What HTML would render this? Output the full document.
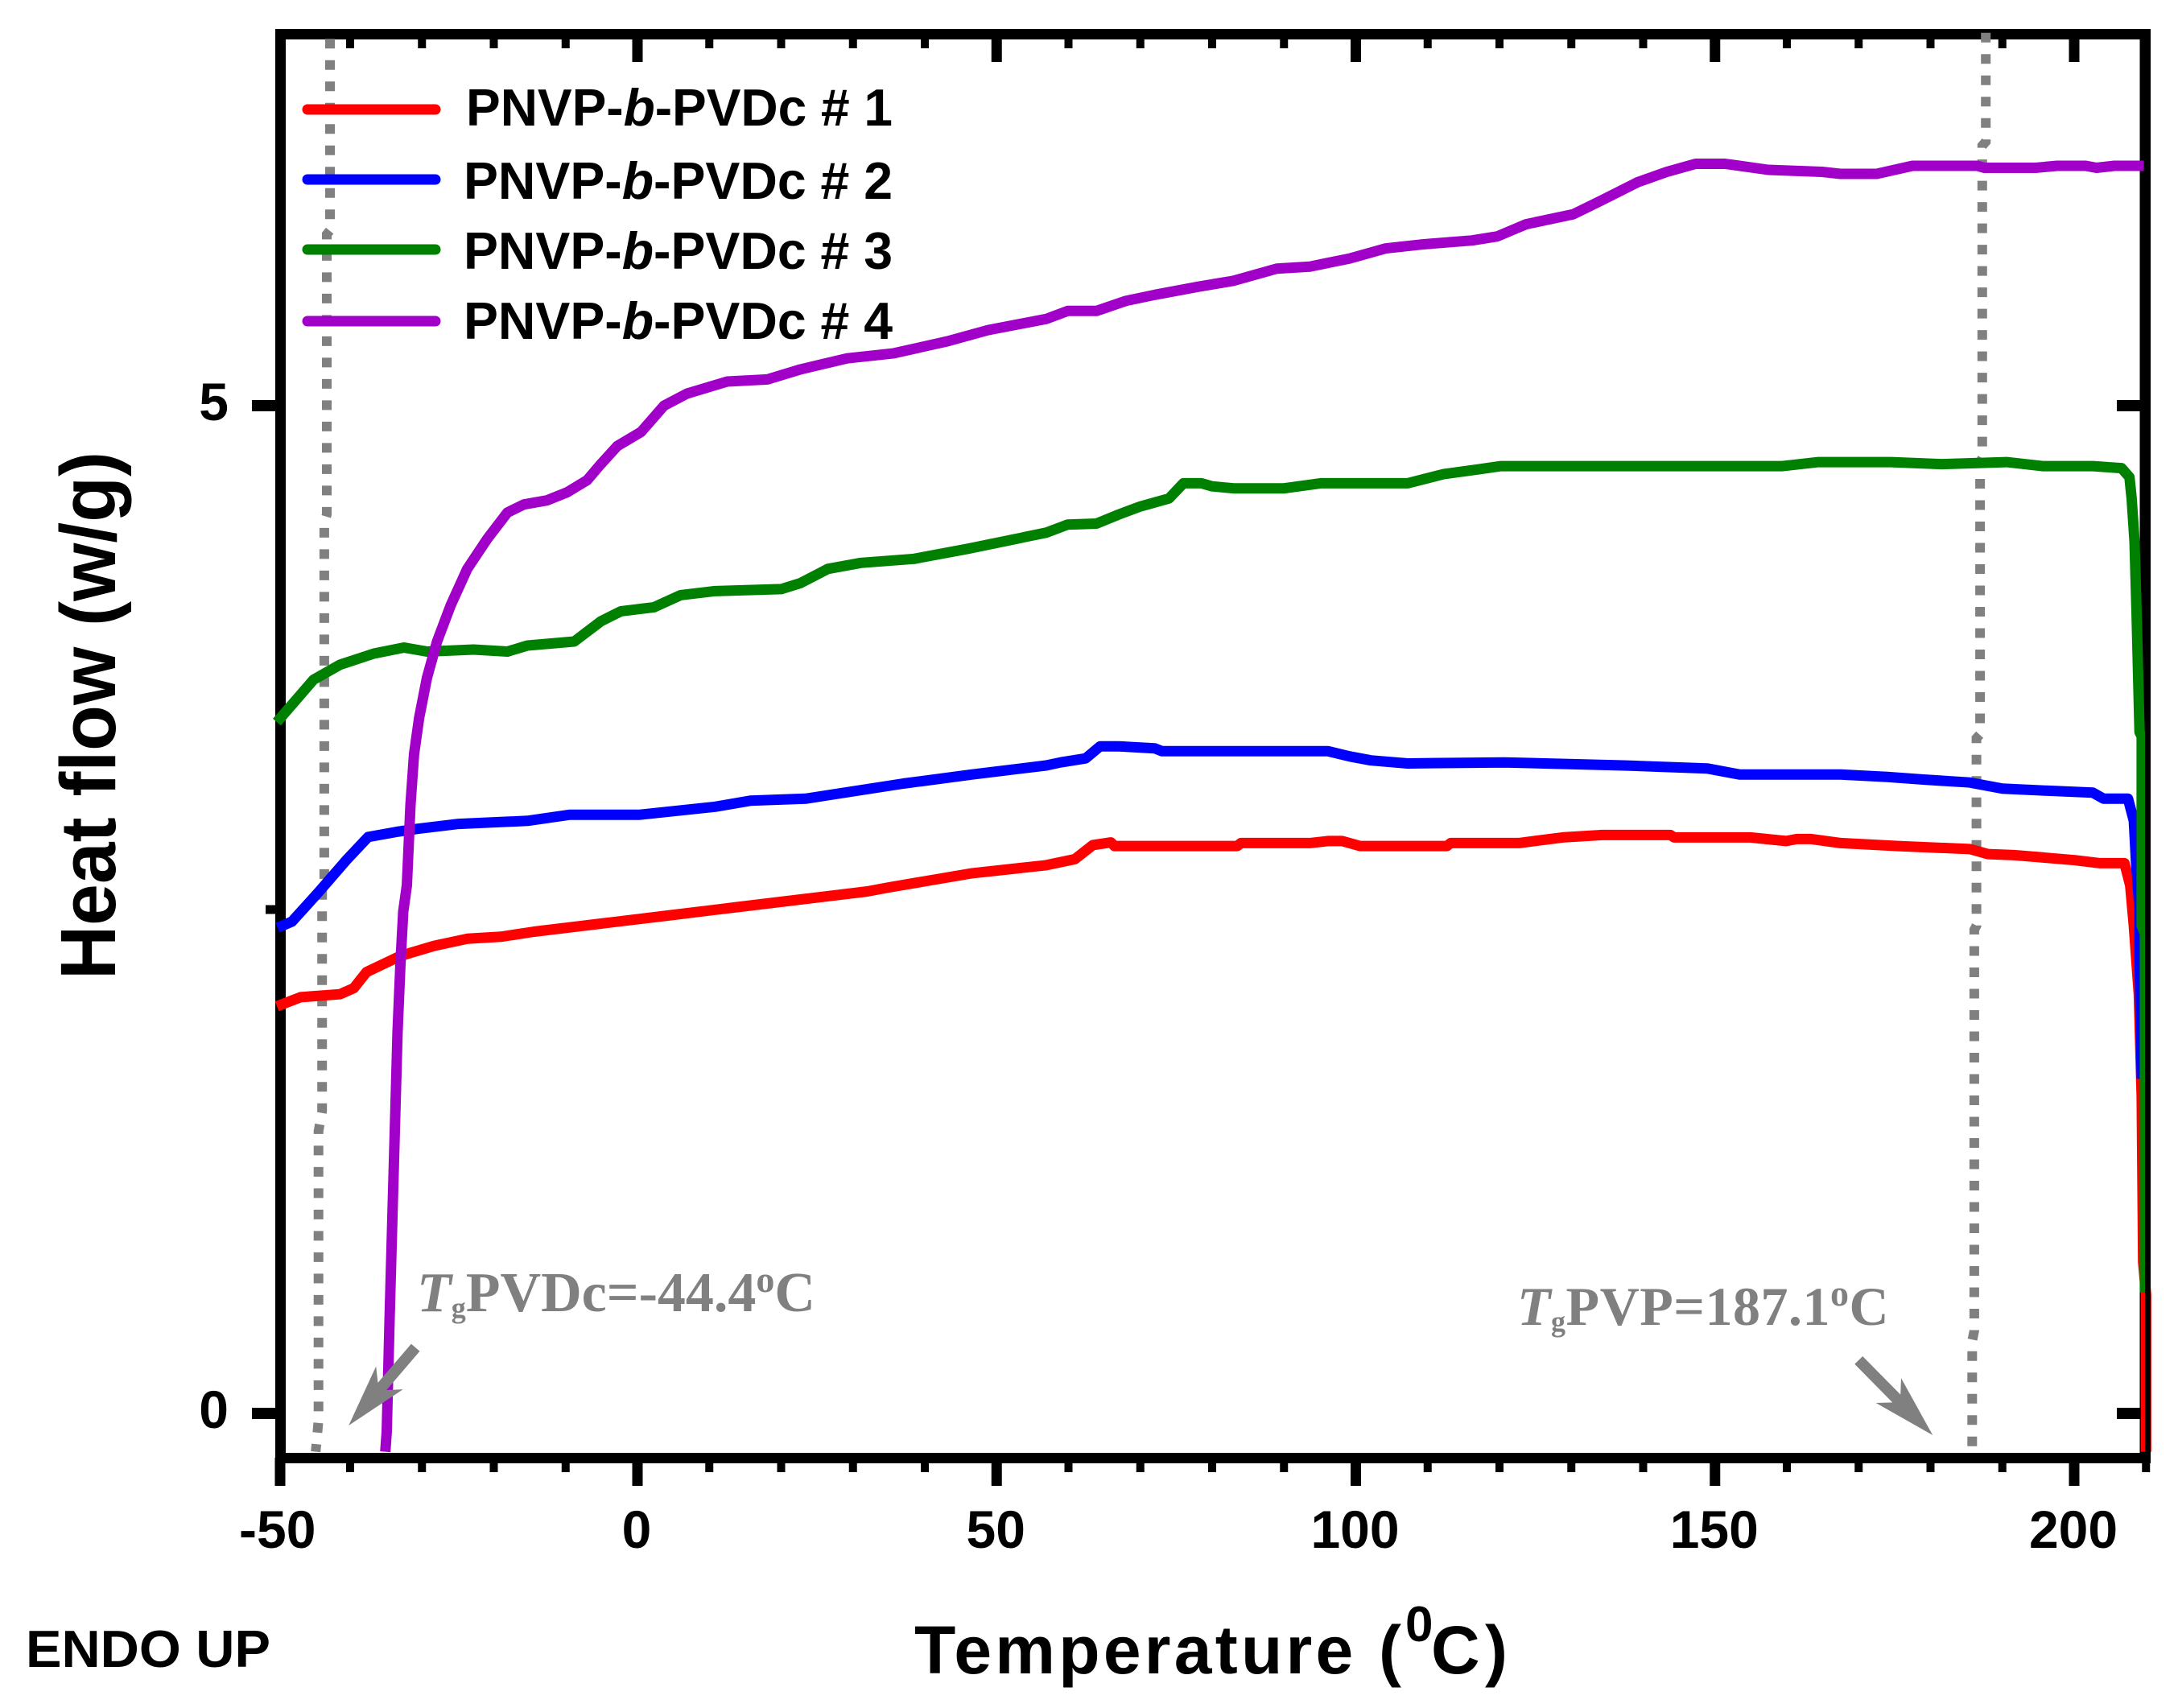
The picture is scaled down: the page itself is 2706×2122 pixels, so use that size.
<!DOCTYPE html>
<html lang="en">
<head>
<meta charset="utf-8">
<title>Heat flow vs temperature</title>
<style>
html,body{margin:0;padding:0;background:#fff;}
svg{display:block;}
text{font-family:"Liberation Sans",sans-serif;}
</style>
</head>
<body>
<svg id="chart" xmlns="http://www.w3.org/2000/svg" width="2706" height="2122" viewBox="0 0 2706 2122">
  <rect x="0" y="0" width="2706" height="2122" fill="#fff"/>
  <rect x="348.5" y="42.5" width="2316.5" height="1769" fill="none" stroke="#000" stroke-width="13"/>
  <g id="ticks"></g>
  <g id="tglines"></g>
  <g id="series"></g>
  <rect x="2665" y="36" width="7" height="1782" fill="#000"/>
  <g id="arrows"></g>

  <text transform="translate(143,1217) rotate(-90)" font-size="97" font-weight="bold" textLength="656" lengthAdjust="spacingAndGlyphs" fill="#000">Heat flow (w/g)</text>
  <text x="1136" y="2079" font-size="84" font-weight="bold" textLength="605" lengthAdjust="spacing" fill="#000">Temperature (</text>
  <text x="1746" y="2039" font-size="62" font-weight="bold" fill="#000">0</text>
  <text x="1778" y="2079" font-size="84" font-weight="bold" textLength="95" lengthAdjust="spacing" fill="#000">C)</text>
  <text x="32" y="2071" font-size="65" font-weight="bold" textLength="304" lengthAdjust="spacingAndGlyphs" fill="#000">ENDO UP</text>

  <g>
    <line x1="382" y1="136" x2="541" y2="136" stroke="#ff0000" stroke-width="13" stroke-linecap="round"/>
    <line x1="382" y1="223" x2="541" y2="223" stroke="#0000ff" stroke-width="13" stroke-linecap="round"/>
    <line x1="382" y1="310" x2="541" y2="310" stroke="#008000" stroke-width="13" stroke-linecap="round"/>
    <line x1="382" y1="399" x2="541" y2="399" stroke="#a000c8" stroke-width="13" stroke-linecap="round"/>
    <text x="579" y="156" font-size="65" font-weight="bold" textLength="530" lengthAdjust="spacingAndGlyphs">PNVP-<tspan font-style="italic">b</tspan>-PVDc # 1</text>
    <text x="576" y="247" font-size="65" font-weight="bold" textLength="533" lengthAdjust="spacingAndGlyphs">PNVP-<tspan font-style="italic">b</tspan>-PVDc # 2</text>
    <text x="576" y="334" font-size="65" font-weight="bold" textLength="533" lengthAdjust="spacingAndGlyphs">PNVP-<tspan font-style="italic">b</tspan>-PVDc # 3</text>
    <text x="576" y="421" font-size="65" font-weight="bold" textLength="533" lengthAdjust="spacingAndGlyphs">PNVP-<tspan font-style="italic">b</tspan>-PVDc # 4</text>
  </g>

  <text x="518" y="1629" style="font-family:'Liberation Serif',serif" font-size="70" font-weight="bold" fill="#808080"><tspan font-style="italic">T</tspan><tspan font-size="36" dy="8">g</tspan><tspan dy="-8">PVDc=-44.4</tspan><tspan font-size="46" dy="-24">o</tspan><tspan dy="24">C</tspan></text>
  <text x="1885" y="1646" style="font-family:'Liberation Serif',serif" font-size="68" font-weight="bold" fill="#808080" letter-spacing="0.5"><tspan font-style="italic">T</tspan><tspan font-size="36" dy="8">g</tspan><tspan dy="-8">PVP=187.1</tspan><tspan font-size="46" dy="-24">o</tspan><tspan dy="24">C</tspan></text>
</svg>

<script>
// ---- Axis data ----
const xMajorTicks = [-50, 0, 50, 100, 150, 200];
const xMinorTicks = [-40, -30, -20, -10, 10, 20, 30, 40, 60, 70, 80, 90, 110, 120, 130, 140, 160, 170, 180, 190, 210];
const yMajorTicks = [0, 5];
const yMinorTicks = [2.5];
const xTickLabels = ["-50", "0", "50", "100", "150", "200"];
const yTickLabels = ["0", "5"];

// ---- Series data: temperature (deg C) and heat flow (W/g) ----
const tempSeries1 = [-50.2,-46.9,-41.4,-39.5,-37.7,-33,-28.3,-23.7,-19,-14.4,-5.1,4.2,13.4,22.7,32,35,46.6,56.9,60.9,63.4,65.9,66.4,83.5,84,93.6,96.1,98.1,100.6,112.7,113.2,122.7,128.8,134.3,143.8,144.3,154.9,159.9,161.4,163.4,167.5,175.5,185.5,188,191.6,195.1,200.1,203.6,207,207.8,208.3,209,209.4,209.6,210,210];
const flowSeries1 = [2.02,2.065,2.08,2.11,2.19,2.27,2.32,2.355,2.365,2.39,2.43,2.47,2.51,2.55,2.59,2.61,2.68,2.72,2.75,2.82,2.833,2.815,2.815,2.83,2.83,2.84,2.84,2.815,2.815,2.83,2.83,2.858,2.87,2.87,2.858,2.858,2.84,2.85,2.85,2.83,2.815,2.80,2.775,2.77,2.76,2.745,2.73,2.73,2.62,2.42,2.08,1.57,0.75,0.59,-0.19];

const tempSeries2 = [-50.1,-48.1,-44.3,-40.4,-37.5,-33.6,-30.7,-24.9,-15.3,-9.5,0.2,10.8,15.7,23.4,37,46.6,56.9,58.9,62.4,64.4,67,72,73,96.1,99.1,102.1,107.2,120.7,137.3,148.9,153.4,167.5,174,179,185.5,190,196.1,202.6,204.1,207.5,208.3,208.6,209.1,209.1,209.4];
const flowSeries2 = [2.41,2.44,2.59,2.75,2.86,2.885,2.90,2.925,2.94,2.97,2.97,3.01,3.04,3.05,3.125,3.17,3.215,3.23,3.25,3.31,3.31,3.30,3.286,3.286,3.26,3.24,3.225,3.23,3.215,3.20,3.17,3.17,3.158,3.145,3.13,3.10,3.09,3.08,3.05,3.05,2.94,2.74,2.5,2.26,1.66];

const tempSeries3 = [-50.2,-45.1,-41.4,-36.7,-32.5,-29.3,-22.8,-18.1,-15.3,-8.8,-5.1,-2.3,2.3,6,10.7,20,22.7,26.5,31.1,38.5,46,56.9,59.9,63.9,67,70,74,76,78.5,80,83,90,95.1,107.2,112.2,117.2,120.2,127.3,159.4,164.4,174.5,181.5,190.6,195.6,202.6,206.6,207.7,208,208.4,208.7,209.1,209.4,209.4,209.85,209.85];
const flowSeries3 = [3.43,3.64,3.715,3.77,3.80,3.78,3.79,3.78,3.81,3.83,3.93,3.98,4.00,4.06,4.08,4.09,4.12,4.19,4.22,4.24,4.29,4.37,4.41,4.415,4.46,4.50,4.54,4.615,4.615,4.60,4.59,4.59,4.615,4.615,4.66,4.685,4.70,4.70,4.70,4.72,4.72,4.71,4.72,4.70,4.70,4.69,4.645,4.54,4.325,3.96,3.38,3.36,2.42,2.38,0.6];

const tempSeries4 = [-35.1,-34.9,-34.5,-34.1,-33.7,-33.4,-33,-32.6,-32.1,-31.6,-31.1,-30.4,-29.3,-27.9,-26,-23.7,-20.9,-18.1,-15.8,-12.6,-9.8,-7,-5.1,-2.8,0.5,3.7,6.9,12.5,18.1,22.7,29.2,35.7,43.2,48.8,56.9,59.9,63.9,68,72,78,83,89,93.6,99.1,104.1,109.2,116.2,119.7,123.7,130.3,134.3,139.3,143.3,147.3,151.4,157.4,164.9,167.5,172.5,177.5,186.5,187.5,194.6,197.6,201.6,203.1,205.6,209.7];
const flowSeries4 = [-0.19,-0.09,0.48,1.00,1.50,1.89,2.23,2.49,2.62,3.02,3.27,3.45,3.65,3.83,4.01,4.19,4.34,4.47,4.51,4.53,4.57,4.63,4.71,4.80,4.87,5.00,5.06,5.12,5.13,5.18,5.235,5.26,5.32,5.375,5.43,5.47,5.47,5.52,5.55,5.59,5.62,5.68,5.69,5.73,5.78,5.80,5.82,5.84,5.90,5.95,6.02,6.11,6.16,6.20,6.20,6.17,6.16,6.15,6.15,6.19,6.19,6.18,6.18,6.19,6.19,6.18,6.19,6.19];

// ---- Tg guide lines (stepped as in the source figure) ----
const tgPvdcTemps = [-42.8,-42.8,-43.25,-43.25,-43.6,-43.6,-43.9,-43.9,-44.4,-44.4,-44.8];
const tgPvdcFlows = [6.82,5.87,5.85,4.46,4.42,2.62,2.6,1.5,1.4,-0.036,-0.19];
const tgPvpTemps = [187.7,187.7,187.2,187.2,186.9,186.9,186.4,186.4,186.1,186.1,185.8,185.8];
const tgPvpFlows = [6.85,6.31,6.29,4.74,4.72,3.37,3.35,2.42,2.4,0.41,0.36,-0.2];

// ---- Arrow endpoints in data units ----
const pvdcArrowTail = [-30.9, 0.327];
const pvdcArrowTip = [-40.2, -0.06];
const pvpArrowTail = [170, 0.264];
const pvpArrowTip = [180.3, -0.108];

// ---- Axis functions ----
const xScale = t => 792 + 8.925 * t;
const yScale = v => 1756 - 250.4 * v;
const NS = "http://www.w3.org/2000/svg";

function pathFrom(temps, flows) {
  return temps.map((t, i) => (i ? "L" : "M") + xScale(t).toFixed(1) + " " + yScale(flows[i]).toFixed(1)).join(" ");
}

const ticksGroup = document.getElementById("ticks");
function addTick(x1, y1, x2, y2, w) {
  const el = document.createElementNS(NS, "line");
  
  
  el.setAttribute("x1", x1);
  el.setAttribute("y1", y1);
  el.setAttribute("x2", x2);
  el.setAttribute("y2", y2);
  el.setAttribute("stroke", "#000");
  el.setAttribute("stroke-width", w);
  ticksGroup.appendChild(el);
}
xMajorTicks.forEach(t => {
  addTick(Math.max(xScale(t), 348), 1811, Math.max(xScale(t), 348), 1846, 13);
  if (t > -50) addTick(xScale(t), 44, xScale(t), 77, 13);
});
xMinorTicks.forEach(t => {
  addTick(xScale(t), 1811, xScale(t), 1829, 10);
  if (t < 210) addTick(xScale(t), 44, xScale(t), 60, 10);
});
yMajorTicks.forEach(v => {
  addTick(313, yScale(v), 348, yScale(v), 14);
  addTick(2630, yScale(v), 2665, yScale(v), 14);
});
yMinorTicks.forEach(v => {
  addTick(330, yScale(v), 348, yScale(v), 11);
  addTick(2645, yScale(v), 2665, yScale(v), 11);
});

xTickLabels.forEach((label, i) => {
  const el = document.createElementNS(NS, "text");
  
  
  el.setAttribute("x", xScale(xMajorTicks[i]) - 1);
  el.setAttribute("y", 1923);
  el.setAttribute("font-size", 66);
  el.setAttribute("font-weight", "bold");
  el.setAttribute("text-anchor", "middle");
  el.textContent = label;
  ticksGroup.appendChild(el);
});
yTickLabels.forEach((label, i) => {
  const el = document.createElementNS(NS, "text");
  
  
  el.setAttribute("x", 284);
  el.setAttribute("y", yScale(yMajorTicks[i]) + 18);
  el.setAttribute("font-size", 66);
  el.setAttribute("font-weight", "bold");
  el.setAttribute("text-anchor", "end");
  el.textContent = label;
  ticksGroup.appendChild(el);
});

const tgGroup = document.getElementById("tglines");
[[tgPvdcTemps, tgPvdcFlows], [tgPvpTemps, tgPvpFlows]].forEach(pair => {
  const el = document.createElementNS(NS, "path");
  
  
  el.setAttribute("d", pathFrom(pair[0], pair[1]));
  el.setAttribute("fill", "none");
  el.setAttribute("stroke", "#808080");
  el.setAttribute("stroke-width", 12);
  el.setAttribute("stroke-dasharray", "12 14.5");
  tgGroup.appendChild(el);
});

const seriesGroup = document.getElementById("series");
function addSeries(temps, flows, color) {
  const el = document.createElementNS(NS, "path");
  
  
  el.setAttribute("d", pathFrom(temps, flows));
  el.setAttribute("fill", "none");
  el.setAttribute("stroke", color);
  el.setAttribute("stroke-width", 13);
  el.setAttribute("stroke-linejoin", "round");
  seriesGroup.appendChild(el);
}
addSeries(tempSeries1, flowSeries1, "#ff0000");
addSeries(tempSeries2, flowSeries2, "#0000ff");
addSeries(tempSeries3, flowSeries3, "#008000");
addSeries(tempSeries4, flowSeries4, "#a000c8");

const arrowsGroup = document.getElementById("arrows");
function addArrow(tail, tip) {
  const ax = xScale(tail[0]), ay = yScale(tail[1]);
  const bx = xScale(tip[0]), by = yScale(tip[1]);
  const len = Math.hypot(bx - ax, by - ay);
  const ux = (bx - ax) / len, uy = (by - ay) / len;
  const nx = -uy, ny = ux;
  const head = 78, half = 22, notch = 64, shaft = 7;
  const p = (along, side) => (bx - ux * along + nx * side).toFixed(1) + "," + (by - uy * along + ny * side).toFixed(1);
  const pts = [p(0, 0), p(head, half), p(notch, shaft), p(len, shaft), p(len, -shaft), p(notch, -shaft), p(head, -half)].join(" ");
  const el = document.createElementNS(NS, "polygon");
  
  
  el.setAttribute("points", pts);
  el.setAttribute("fill", "#808080");
  arrowsGroup.appendChild(el);
}
addArrow(pvdcArrowTail, pvdcArrowTip);
addArrow(pvpArrowTail, pvpArrowTip);
</script>
</body>
</html>
